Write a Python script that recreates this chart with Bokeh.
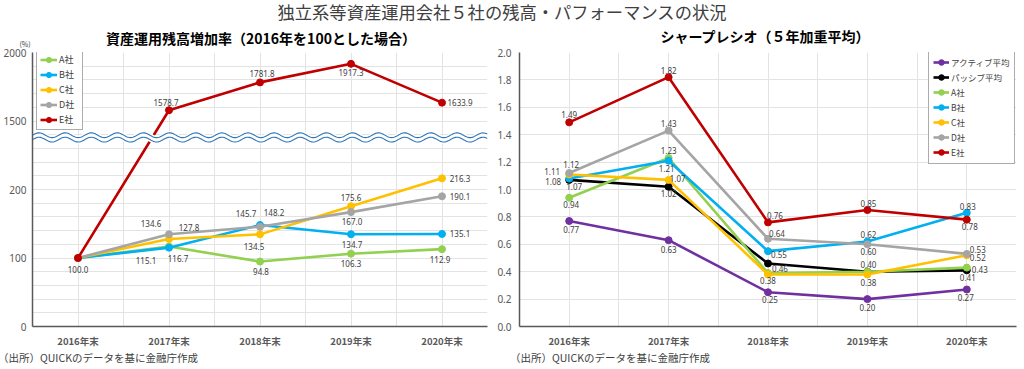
import numpy as np
from bokeh.plotting import figure
from bokeh.layouts import column, row
from bokeh.models import (ColumnDataSource, FixedTicker, Legend, LegendItem,
                          Div, Range1d, NumeralTickFormatter)
from bokeh.embed import file_html
from bokeh.resources import INLINE
from bokeh.core.properties import value

# ---------------- data ----------------
years = ["2016年末", "2017年末", "2018年末", "2019年末", "2020年末"]

# left chart: AUM growth (2016 = 100)
growth_A = [100.0, 116.7, 94.8, 106.3, 112.9]
growth_B = [100.0, 115.1, 148.2, 134.7, 135.1]
growth_C = [100.0, 127.8, 134.5, 175.6, 216.3]
growth_D = [100.0, 134.6, 145.7, 167.0, 190.1]
growth_E = [100.0, 1578.7, 1781.8, 1917.3, 1633.9]
left_ticks = [0, 100, 200, 1500, 2000]

# right chart: Sharpe ratio (5y weighted average)
sharpe_active = [0.77, 0.63, 0.25, 0.20, 0.27]
sharpe_passive = [1.07, 1.02, 0.46, 0.40, 0.41]
sharpe_A = [0.94, 1.23, 0.39, 0.40, 0.43]
sharpe_B = [1.08, 1.21, 0.55, 0.62, 0.83]
sharpe_C = [1.11, 1.07, 0.38, 0.38, 0.52]
sharpe_D = [1.12, 1.43, 0.64, 0.60, 0.53]
sharpe_E = [1.49, 1.82, 0.76, 0.85, 0.78]

main_title = "独立系等資産運用会社５社の残高・パフォーマンスの状況"
left_title = "資産運用残高増加率（2016年を100とした場合）"
right_title = "シャープレシオ（５年加重平均）"
source_note = "（出所）QUICKのデータを基に金融庁作成"

# ---------------- styles ----------------
COL = {"A": "#92D050", "B": "#00B0F0", "C": "#FFC000", "D": "#A5A5A5", "E": "#C00000",
       "act": "#7030A0", "pas": "#000000"}
JP = "Noto Sans CJK JP"
NUM = "Noto Sans"
TXT = "#404040"
GRID = "#e3e3e3"
AX = "#595959"

# label placement (pixel offsets from point): index -> (dx, dy)
left_lbl = {
    "E": {0: (0, 11), 1: (-3, -8), 2: (2, -9), 3: (0, 9), 4: (18, 0)},
    "A": {1: (9, 12), 2: (1, 10), 3: (0, 10), 4: (-2, 10)},
    "B": {1: (-23, 13), 2: (14, -12), 3: (1, 10), 4: (18, 0)},
    "C": {1: (20, -11), 2: (-6, 12), 3: (0, -9), 4: (18, 0)},
    "D": {1: (-18, -11), 2: (-14, -13), 3: (1, 9), 4: (18, 0)},
}
right_lbl = {
    "act": {0: (2, 8), 1: (0, 9), 2: (2, 7), 3: (0, 8), 4: (-1, 8)},
    "pas": {0: (5, 7), 1: (0, 7), 2: (12, 5), 4: (1, 7)},
    "A": {0: (2, 7), 1: (0, -7), 3: (1, -7), 4: (13, 2)},
    "B": {0: (-16, 3), 1: (-2, 8), 2: (11, 3), 3: (1, -7), 4: (1, -6)},
    "C": {0: (-17, -3), 1: (9, -1), 2: (0, 6), 3: (1, 8), 4: (11, 2)},
    "D": {0: (2, -9), 1: (0, -7), 2: (9, -5), 3: (1, 7), 4: (11, -4)},
    "E": {0: (0, -8), 1: (0, -7), 2: (7, -7), 3: (1, -7), 4: (3, 7)},
}

xs = list(range(len(years)))

# broken axis: values above the break are compressed 1:5
BREAK_LO, BREAK_HI, UPPER_SCALE = 300, 1500, 5


def brk(v):
    return v if v <= BREAK_LO else BREAK_LO + (v - BREAK_HI) / UPPER_SCALE


def style_axes(p):
    p.outline_line_color = None
    p.border_fill_color = None
    for ax in (p.xaxis[0], p.yaxis[0]):
        ax.axis_line_color = AX
        ax.axis_line_width = 1.5
        ax.major_tick_out = 0
        ax.major_tick_in = 0
        ax.minor_tick_out = 0
        ax.minor_tick_in = 0
        ax.major_tick_line_color = None
        ax.minor_tick_line_color = None
        ax.major_label_text_color = "#595959"
    p.xaxis.ticker = FixedTicker(ticks=xs)
    p.xaxis.major_label_overrides = {i: y for i, y in enumerate(years)}
    p.xaxis.major_label_text_font = JP
    p.xaxis.major_label_text_font_size = "9.5px"
    p.xaxis.major_label_text_font_style = "bold"
    p.xaxis.major_label_standoff = 7
    p.xgrid.ticker = FixedTicker(ticks=list(np.arange(-0.5, 4.51, 0.5)))
    p.xgrid.grid_line_color = GRID
    p.ygrid.grid_line_color = GRID
    p.yaxis.major_label_text_font = NUM
    p.yaxis.major_label_text_font_size = "10px"


def add_series(p, ys, key):
    src = ColumnDataSource(dict(x=xs, y=ys))
    ln = p.line("x", "y", source=src, line_color=COL[key], line_width=2.6)
    sc = p.scatter("x", "y", source=src, size=7, fill_color=COL[key], line_color=COL[key])
    return ln, sc


def add_labels(p, ys_plot, ys_raw, spec, fmt):
    lx, ly, lt, dx, dy = [], [], [], [], []
    for i, (d1, d2) in spec.items():
        lx.append(xs[i]); ly.append(ys_plot[i]); lt.append(fmt % ys_raw[i])
        dx.append(d1); dy.append(d2)
    src = ColumnDataSource(dict(x=lx, y=ly, t=lt, dx=dx, dy=dy))
    p.text("x", "y", text="t", x_offset="dx", y_offset="dy", source=src,
           text_font=value(NUM), text_font_size="8px", text_color=TXT,
           text_align="center", text_baseline="middle")


FIG_H = 306
# ---------------- left chart ----------------
pL = figure(width=492, height=FIG_H, output_backend="svg", toolbar_location=None,
            x_range=Range1d(-0.5, 4.5), y_range=Range1d(0, brk(2000)),
            min_border_left=32, min_border_right=5, min_border_top=8, min_border_bottom=23)
style_axes(pL)
pL.yaxis.ticker = FixedTicker(ticks=[brk(t) for t in left_ticks])
pL.yaxis.major_label_overrides = {brk(t): str(t) for t in left_ticks}
pL.yaxis.major_label_standoff = 6
pL.ygrid.ticker = FixedTicker(ticks=list(range(0, 401, 20)))

left_series = [("A", growth_A), ("B", growth_B), ("C", growth_C), ("D", growth_D), ("E", growth_E)]
items = []
for key, ys in left_series:
    ln, sc = add_series(pL, [brk(v) for v in ys], key)
    items.append(LegendItem(label=key + "社", renderers=[ln, sc]))

# broken-axis wave marker
wx = np.linspace(-0.5, 4.5, 400)
wave_y = brk(2000) * 0.69
amp = 2.4 / 0.6875
wv = np.sin((wx + 0.5) / 0.287 * 2 * np.pi) * amp
pL.line(wx, wave_y + wv, line_color="white", line_width=8)
pL.line(wx, wave_y + wv + 2.2 / 0.6875, line_color="#2E75B6", line_width=1.1)
pL.line(wx, wave_y + wv - 2.2 / 0.6875, line_color="#2E75B6", line_width=1.1)

for key, ys in left_series:
    add_labels(pL, [brk(v) for v in ys], ys, left_lbl[key], "%.1f")

legL = Legend(items=items, location=(4, 196), label_text_font=JP, label_text_font_size="9px",
              label_text_color=TXT, glyph_height=13, glyph_width=17, label_height=13,
              spacing=2, padding=3, margin=0, label_standoff=2,
              border_line_color=AX, border_line_width=1.2)
pL.add_layout(legL, "center")

# ---------------- right chart ----------------
pR = figure(width=532, height=FIG_H, output_backend="svg", toolbar_location=None,
            x_range=Range1d(-0.5, 4.5), y_range=Range1d(0, 2.0),
            min_border_left=27, min_border_right=8, min_border_top=8, min_border_bottom=24)
style_axes(pR)
pR.yaxis.ticker = FixedTicker(ticks=list(np.round(np.arange(0, 2.01, 0.2), 1)))
pR.yaxis.formatter = NumeralTickFormatter(format="0.0")
pR.yaxis.major_label_standoff = 8

right_series = [("act", "アクティブ平均", sharpe_active), ("pas", "パッシブ平均", sharpe_passive),
                ("A", "A社", sharpe_A), ("B", "B社", sharpe_B), ("C", "C社", sharpe_C),
                ("D", "D社", sharpe_D), ("E", "E社", sharpe_E)]
itemsR = []
for key, name, ys in right_series:
    ln, sc = add_series(pR, ys, key)
    itemsR.append(LegendItem(label=name, renderers=[ln, sc]))
for key, name, ys in right_series:
    add_labels(pR, ys, ys, right_lbl[key], "%.2f")

legR = Legend(items=itemsR, location=(409, 162), label_text_font=JP, label_text_font_size="8.5px",
              label_text_color=TXT, glyph_height=14, glyph_width=16, label_height=14,
              spacing=1, padding=4, margin=0, label_standoff=2,
              border_line_color=AX, border_line_width=1.2)
pR.add_layout(legR, "center")

# ---------------- text blocks ----------------
font_css = "font-family:'Noto Sans CJK JP',sans-serif;"
title = Div(width=1004, height=24, margin=0, text=(
    f"<div style=\"position:relative;width:1004px;height:24px;{font_css}\">"
    f"<div style=\"position:absolute;left:0;top:0;width:1004px;text-align:center;"
    f"font-size:17.3px;line-height:24px;color:{TXT};white-space:nowrap\">{main_title}</div></div>"))

t_left = Div(width=492, height=20, margin=0, text=(
    f"<div style=\"position:relative;width:492px;height:20px;{font_css}\">"
    f"<div style=\"position:absolute;left:0;top:6px;width:522px;text-align:center;"
    f"font-size:14px;font-weight:bold;line-height:16px;color:#000;white-space:nowrap\">{left_title}</div>"
    f"<div style=\"position:absolute;left:17px;top:16px;width:16px;text-align:center;"
    f"font-size:7px;line-height:8px;color:{TXT}\">(%)</div></div>"))
t_right = Div(width=532, height=20, margin=0, text=(
    f"<div style=\"position:relative;width:532px;height:20px;{font_css}\">"
    f"<div style=\"position:absolute;left:0;top:4px;width:546px;text-align:center;"
    f"font-size:14px;font-weight:bold;line-height:16px;color:#000;white-space:nowrap\">{right_title}</div></div>"))

f_left = Div(width=492, height=16, margin=0, text=(
    f"<div style=\"position:relative;width:492px;height:16px;{font_css}\">"
    f"<div style=\"position:absolute;left:-2px;top:2px;font-size:10.5px;line-height:12px;"
    f"color:{TXT};white-space:nowrap\">{source_note}</div></div>"))
f_right = Div(width=532, height=16, margin=0, text=(
    f"<div style=\"position:relative;width:532px;height:16px;{font_css}\">"
    f"<div style=\"position:absolute;left:18px;top:2px;font-size:10.5px;line-height:12px;"
    f"color:{TXT};white-space:nowrap\">{source_note}</div></div>"))

layout = column(title,
                row(t_left, t_right, spacing=0),
                row(pL, pR, spacing=0),
                row(f_left, f_right, spacing=0),
                spacing=0)
open("out.html", "w").write(file_html(layout, INLINE))
